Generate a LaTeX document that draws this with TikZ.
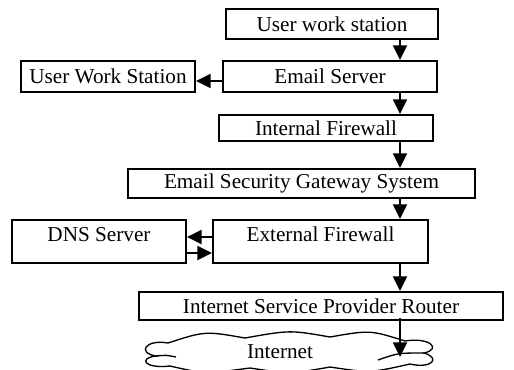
\documentclass[tikz,border=0pt]{standalone}
\usepackage{fontspec}
\setmainfont{Liberation Serif}
\usetikzlibrary{arrows.meta}

\tikzset{every picture/.style={line width=0.75pt}}
\tikzset{
  blk/.style={draw, line width=1.5, inner sep=0.75pt, font=\fontsize{15.9}{19}\selectfont},
  tallblk/.style={blk, text height=10.5pt, text depth=10pt},
  arr/.style={line width=1.5, -{Triangle[length=11pt,width=10.5pt]}},
}

\begin{document}
\begin{tikzpicture}[x=0.75pt,y=0.75pt,yscale=-1,xscale=1]
\useasboundingbox (0,0) rectangle (514,369);

%spine for the vertical arrows
\coordinate (spine) at (400,0);

% Text Node
\draw (332,24) node [blk, minimum width=159pt, minimum height=22.5pt] (uws1) {User work station};
% Text Node
\draw (330,76.5) node [blk, minimum width=160.5pt, minimum height=23.25pt] (es) {Email Server};
% Text Node
\draw (108,76.5) node [blk, minimum width=130.5pt, minimum height=23.25pt] (uws2) {User Work Station};
% Text Node
\draw (326,128) node [blk, minimum width=160.5pt, minimum height=19.5pt] (ifw) {Internal Firewall};
% Text Node
\draw (301.5,183.5) node [blk, minimum width=260.25pt, minimum height=21.75pt] (esg) {Email Security Gateway System};
% Text Node
\draw (320.5,241.5) node [tallblk, minimum width=161.25pt, minimum height=32.25pt] (efw) {External Firewall};
% Text Node
\draw (99,241.5) node [tallblk, minimum width=130.5pt, minimum height=32.25pt] (dns) {DNS Server};
% Text Node
\draw (321,306) node [blk, minimum width=273pt, minimum height=21pt] (isp) {Internet Service Provider Router};

%Shape: Cloud
\draw [line width=1] (168,343) .. controls (205,331) .. (245,338) .. controls (290,330) .. (330,337)
  .. controls (370,330) .. (405,341) .. controls (430,337) and (442,349) .. (424,353)
  .. controls (441,358) and (432,369) .. (410,364) .. controls (370,373) .. (330,367)
  .. controls (290,374) .. (250,368) .. controls (205,374) .. (170,366)
  .. controls (144,369) and (138,358) .. (156,356) .. controls (137,353) and (145,339) .. cycle;
\draw [line width=1] (156,356) .. controls (166,355) .. (176,357);
\draw [line width=1] (378,360) .. controls (398,353) .. (424,353);
% Text Node
\draw (280,352) node [inner sep=0.75pt, font=\fontsize{15.9}{19}\selectfont] (inet) {Internet};
\coordinate (inet end) at (400,357);

%Straight Lines
\draw [arr] (uws1.south -| spine) -- (es.north -| spine);
\draw [arr] ([yshift=3.4pt]es.west) -- ([yshift=3.4pt]uws2.east);
\draw [arr] (es.south -| spine) -- (ifw.north -| spine);
\draw [arr] (ifw.south -| spine) -- (esg.north -| spine);
\draw [arr] (esg.south -| spine) -- (efw.north -| spine);
\draw [arr] ([yshift=-3.4pt]efw.west) -- ([yshift=-3.4pt]dns.east);
\draw [arr] ([yshift=8.6pt]dns.east) -- ([yshift=8.6pt]efw.west);
\draw [arr] (efw.south -| spine) -- (isp.north -| spine);
\draw [arr] ([yshift=-2.25pt]isp.south -| spine) -- (inet end);

\end{tikzpicture}
\end{document}
